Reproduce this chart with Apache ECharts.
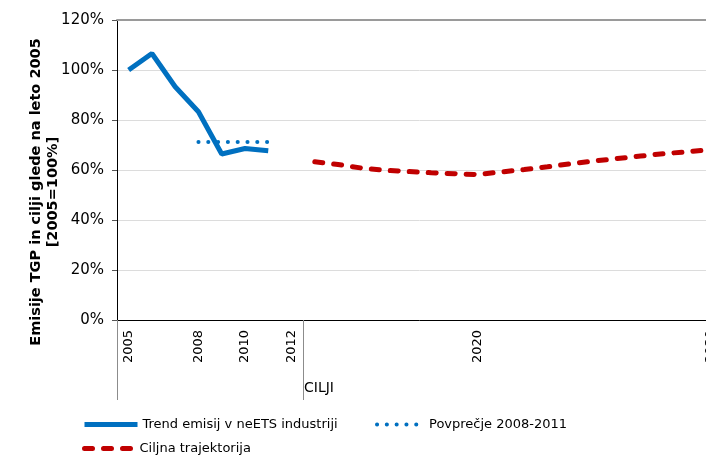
<!DOCTYPE html>
<html>
<head>
<meta charset="utf-8">
<script src="https://cdn.jsdelivr.net/npm/echarts@6/dist/echarts.min.js"></script>
<style>
  html, body { margin: 0; padding: 0; background: #fff; overflow: hidden; }
  #chart { width: 722px; height: 459px; }
</style>
</head>
<body>
<div id="chart"></div>
<script>
// years on the category axis
var years = [];
for (var y = 2005; y <= 2030; y++) years.push(String(y));
var shownYears = ["2005", "2008", "2010", "2012", "2020", "2030"];

// trend 2005-2011 (%)
var trendValues = [100, 106.6, 93.3, 83.3, 66.4, 68.6, 67.7];
// average 2008-2011 (%)
var avgValues = [71.2, 71.2, 71.2, 71.2];
var avgStart = 3;
// target trajectory 2013-2030 (%)
var targetValues = [63.3, 62.2, 60.8, 59.9, 59.4, 58.9, 58.5, 58.2, 59.2, 60.2, 61.3, 62.5, 63.6, 64.6, 65.6, 66.5, 67.3, 68.1];
var targetStart = 8;

var yTicks = [0, 20, 40, 60, 80, 100, 120];

var nameTrend = "Trend emisij v neETS industriji";
var nameAvg = "Povprečje 2008-2011";
var nameTarget = "Ciljna trajektorija";

function pad(values, start) {
    var out = years.map(function() { return null; });
    values.forEach(function(v, i) { out[start + i] = v; });
    return out;
}

var font = "DejaVu Sans";
var blue = "#0070C0";
var red = "#C00000";

// the chart is a bit wider than the window, so 2030 gets cut at the edge like in the original
var chart = echarts.init(document.getElementById("chart"), null, { renderer: "canvas" });

var legendText = { fontFamily: font, fontSize: 13, color: "#000" };
var noSymbol = { color: "rgba(0,0,0,0)", borderWidth: 0, opacity: 0 };

var option = {
    animation: false,
    grid: { left: 117, right: 0, top: 20, bottom: 139, outerBoundsMode: "none", containLabel: false },
    legend: [
        {
            data: [nameTrend], left: 82, top: 418, padding: 0,
            itemWidth: 53, itemHeight: 10, itemStyle: noSymbol,
            lineStyle: { width: 5 },
            textStyle: legendText
        },
        {
            data: [nameAvg], left: 375, top: 418, padding: 0,
            itemWidth: 47, itemHeight: 10, itemStyle: noSymbol,
            lineStyle: { width: 4 },
            textStyle: legendText
        },
        {
            data: [nameTarget], left: 82, top: 442, padding: 0,
            itemWidth: 50, itemHeight: 10, itemStyle: noSymbol,
            lineStyle: { width: 5 },
            textStyle: legendText
        }
    ],
    graphic: [
        {
            type: "text", left: 304, top: 381,
            style: { text: "CILJI", font: "14px " + font, fill: "#000" }
        }
    ],
    xAxis: [
        {
            type: "category",
            data: years,
            position: "bottom",
            boundaryGap: true,
            axisLine: { lineStyle: { color: "#000", width: 1 } },
            axisTick: { show: false },
            axisLabel: {
                rotate: 90,
                margin: 10,
                fontFamily: font,
                fontSize: 13,
                color: "#000",
                interval: function(i, v) { return shownYears.indexOf(v) >= 0; }
            },
            splitLine: { show: false }
        },
        {
            // separators between history and targets
            type: "category",
            data: years,
            position: "bottom",
            boundaryGap: true,
            axisLine: { show: false },
            axisTick: {
                show: true,
                length: 80,
                interval: function(i) { return i === 0 || i === targetStart; },
                lineStyle: { color: "#8c8c8c", width: 1 }
            },
            axisLabel: { show: false },
            splitLine: { show: false }
        },
        {
            type: "category",
            data: years,
            position: "top",
            axisLine: { lineStyle: { color: "#9a9a9a", width: 2 } },
            axisTick: { show: false },
            axisLabel: { show: false }
        }
    ],
    yAxis: {
        type: "value",
        min: 0,
        max: 120,
        interval: 20,
        name: "Emisije TGP in cilji glede na leto 2005\n[2005=100%]",
        nameLocation: "middle",
        nameGap: 55,
        nameMoveOverlap: false,
        nameTextStyle: {
            fontFamily: font, fontSize: 14.5, fontWeight: "bold", color: "#000",
            lineHeight: 17, padding: [0, 44, 0, 0]
        },
        axisLine: { show: true, lineStyle: { color: "#000", width: 1 } },
        axisTick: { show: true, length: 5, lineStyle: { color: "#555" } },
        axisLabel: {
            margin: 13,
            fontFamily: font,
            fontSize: 15,
            color: "#000",
            formatter: function(v) { return yTicks.indexOf(v) >= 0 ? v + "%" : ""; }
        },
        splitLine: { lineStyle: { color: "#dcdcdc", width: 1 } }
    },
    series: [
        {
            name: nameTrend,
            type: "line",
            data: pad(trendValues, 0),
            symbol: "none",
            lineStyle: { color: blue, width: 5 },
            itemStyle: { color: blue }
        },
        {
            name: nameAvg,
            type: "line",
            data: pad(avgValues, avgStart),
            symbol: "none",
            z: 1,
            lineStyle: { color: blue, width: 4, type: [0.1, 9.7], cap: "round" },
            itemStyle: { color: blue }
        },
        {
            name: nameTarget,
            type: "line",
            data: pad(targetValues, targetStart),
            symbol: "none",
            lineStyle: { color: red, width: 5, type: [8, 11], cap: "round" },
            itemStyle: { color: red }
        }
    ]
};

chart.setOption(option);
</script>
</body>
</html>
